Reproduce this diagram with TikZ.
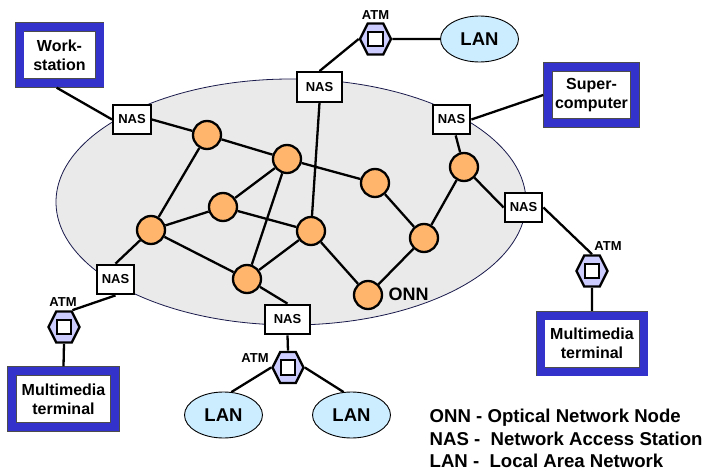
\documentclass[tikz,border=0pt]{standalone}
\usepackage{fontspec}
\setmainfont{Liberation Sans}
\usetikzlibrary{shapes.geometric, positioning}
\definecolor{frameblue}{HTML}{3333CC}
\definecolor{onnorange}{HTML}{FFB56B}
\definecolor{atmviolet}{HTML}{CCCCFF}
\definecolor{lanblue}{HTML}{CCECFF}
\definecolor{cloudgrey}{HTML}{EAEAEA}
\definecolor{cloudline}{HTML}{1A1A4D}
\tikzset{
    link/.style={line width=2.3pt},
    onn/.style={circle, draw, fill=onnorange, line width=2.3pt, minimum size=28pt, inner sep=0pt},
    nas/.style={rectangle, draw, fill=white, line width=2.3pt, minimum width=37.5pt, minimum height=29.5pt,
        inner sep=0pt, font=\fontsize{13}{15}\selectfont\bfseries},
    wide nas/.style={nas, minimum width=45pt},
    atm/.style={regular polygon, regular polygon sides=6, draw, fill=atmviolet, line width=2.3pt,
        minimum size=31pt, inner sep=0pt, transform shape, yscale=1.155},
    atm core/.style={rectangle, draw, fill=white, line width=2.3pt, minimum size=14.5pt, inner sep=0pt},
    atm name/.style={font=\fontsize{13}{15}\selectfont\bfseries},
    lan/.style={ellipse, draw, fill=lanblue, line width=0.9pt, minimum width=78pt, minimum height=46pt,
        inner sep=0pt, font=\fontsize{18.5}{20}\selectfont\bfseries},
    host/.style={rectangle, draw=black!70, double=frameblue, double distance=8pt, line width=0.7pt,
        fill=white, outer sep=4.7pt, inner sep=0pt, minimum height=56pt, align=center,
        font=\fontsize{16}{19}\selectfont\bfseries},
}
\begin{document}
\begin{tikzpicture}[x=1pt, y=-1pt]
\useasboundingbox (0,0) rectangle (705,471);
\node[ellipse, draw=cloudline, fill=cloudgrey, line width=0.8pt, minimum width=470pt, minimum height=246pt,
    inner sep=0pt] (cloud) at (291,202) {};

\node[host, minimum width=80pt] (work) at (59.5,55) {Work-\\station};
\node[host, minimum width=87pt] (super) at (591.5,95) {Super-\\computer};
\node[host, minimum width=103pt] (mmleft) at (63.5,399) {Multimedia\\terminal};
\node[host, minimum width=103pt] (mmright) at (592,343.5) {Multimedia\\terminal};

\node[nas] (nas1) at (132,119.5) {NAS};
\node[wide nas] (nas2) at (319.5,87) {NAS};
\node[nas] (nas3) at (451.5,119.5) {NAS};
\node[nas] (nas4) at (523.5,207.5) {NAS};
\node[nas] (nas5) at (115.5,279.5) {NAS};
\node[wide nas] (nas6) at (287.5,319.5) {NAS};

\foreach \name/\pos in {o1/{207,135}, o2/{287,159}, o3/{223,207}, o4/{311,231}, o5/{151,230},
    o6/{247,279}, o7/{375,183}, o8/{464,167}, o9/{424,238}, o10/{368,295}}
    \node[onn] (\name) at (\pos) {};

\foreach \name/\pos in {atm1/{375.5,39}, atm2/{64,327}, atm3/{288,367.5}, atm4/{592,271}} {
    \node[atm] (\name) at (\pos) {};
    \node[atm core] (\name core) at (\pos) {};
}

\node[atm name, above = -1pt of atm1] (atmtext1) {ATM};
\node[atm name] (atmtext2) at (63,302.5) {ATM};
\node[atm name] (atmtext3) at (255,358) {ATM};
\node[atm name] (atmtext4) at (608,246) {ATM};

\node[lan] (lan1) at (479.5,39) {LAN};
\node[lan] (lan2) at (223.5,415) {LAN};
\node[lan] (lan3) at (351.5,415) {LAN};

\node[font=\fontsize{18}{20}\selectfont\bfseries] (onntext) at (408.5,294) {ONN};
\node[anchor=north west, inner sep=0pt, align=left, font=\fontsize{18.6}{22.5}\selectfont\bfseries] (legend)
    at (429.5,409) {ONN - Optical Network Node\\NAS -\ \ Network Access Station\\LAN -\ \ Local Area Network};

\draw[link]
    (work.265) -- (nas1.west)
    (nas1.east) -- (o1)
    (o1) -- (o2)
    (o1) -- (o5)
    (o2) -- (o3)
    (o2) -- (o6)
    (o2) -- (o7)
    (o3) -- (o5)
    (o3) -- (o4)
    (o4) -- (o6)
    (o4) -- (o10)
    (o5) -- (o6)
    (o7) -- (o9)
    (o8) -- (o9)
    (o9) -- (o10)
    (nas2.south) -- (o4)
    (nas2.north) -- (atm1.west)
    (atm1.east) -- (lan1.west)
    (nas3) -- (o8)
    (nas3.east) -- (super.west)
    (o8) -- (nas4.west)
    (nas4.east) -- (atm4.north)
    (atm4.south) -- (mmright.north)
    (o5) -- (nas5.north)
    (nas5.south) -- (atm2.60)
    (atm2.south) -- (mmleft.north)
    (o6) -- (nas6.north)
    (nas6.south) -- (atm3.north)
    (atm3.west) -- (lan2.71)
    (atm3.east) -- (lan3.109);
\end{tikzpicture}
\end{document}
